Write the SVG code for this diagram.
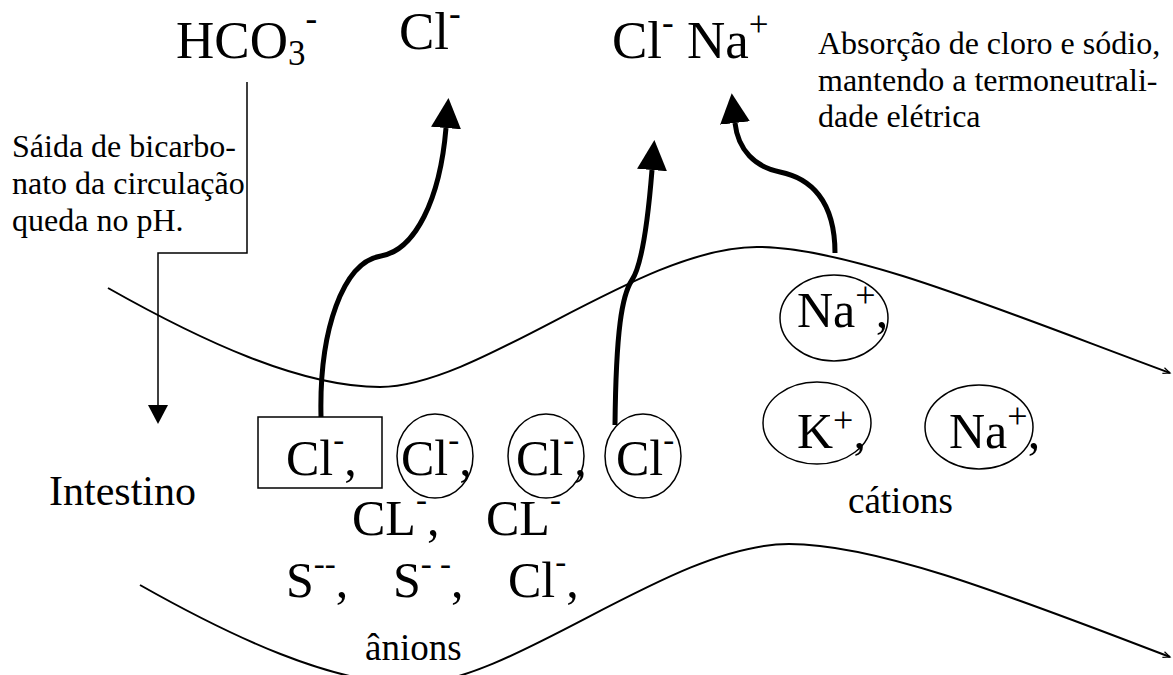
<svg xmlns="http://www.w3.org/2000/svg" width="1173" height="675" viewBox="0 0 1173 675">
<style>
text{font-family:"Liberation Serif","Times New Roman",serif;fill:#000}
.big{font-size:53px}
.ion{font-size:50px}
.sm{font-size:32px}
.lbl{font-size:37px}
.mem{fill:none;stroke:#000;stroke-width:2}
.thin{fill:none;stroke:#000;stroke-width:1.5}
.thick{fill:none;stroke:#000;stroke-width:5}
.shape{fill:none;stroke:#000;stroke-width:1.5}
</style>
<defs>
<marker id="bigArrow" markerUnits="userSpaceOnUse" viewBox="0 -15 30 30" refX="0" refY="0" markerWidth="30" markerHeight="30" orient="auto">
<path d="M0,-15 L30,0 L0,15 z" fill="#000"/>
</marker>
<marker id="thinArrow" markerUnits="userSpaceOnUse" viewBox="0 -10 20 20" refX="0" refY="0" markerWidth="20" markerHeight="20" orient="auto">
<path d="M0,-10 L19,0 L0,10 z" fill="#000"/>
</marker>
<marker id="tinyArrow" markerUnits="userSpaceOnUse" viewBox="-8 -4 10 8" refX="0" refY="0" markerWidth="10" markerHeight="8" orient="auto">
<path d="M-7,-3 L0,0 L-7,3" fill="none" stroke="#000" stroke-width="1.2"/>
</marker>
</defs>

<g id="membrane-top">
<path class="mem" marker-end="url(#tinyArrow)" d="M108,288 C200,340 300,387 380,387 C480,387 640,247 757,247 C850,247 1000,310 1170,373"/>
</g>
<g id="membrane-bottom">
<path class="mem" marker-end="url(#tinyArrow)" d="M140,585 C232,637 332,684 412,684 C512,684 672,544 789,544 C880,544 1020,600 1170,657"/>
</g>

<g id="connectors">
<path class="thin" marker-end="url(#thinArrow)" d="M247,82 L247,253 L158,253 L158,405"/>
<path class="thick" marker-end="url(#bigArrow)" d="M321,417 C319,330 343,262 381,256 C415,250 440,200 446,128"/>
<path class="thick" marker-end="url(#bigArrow)" d="M615,425 C616,330 622,295 632,280 C642,265 648,220 652,170"/>
<path class="thick" marker-end="url(#bigArrow)" d="M835,253 C835,200 810,178 780,172 C755,167 738,150 735,123"/>
</g>

<g id="label-hco3">
<text class="big" x="176" y="58">HCO<tspan font-size="35" dy="7">3</tspan><tspan font-size="35" dy="-35">-</tspan></text>
</g>
<g id="label-cl-top">
<text class="big" x="399" y="49">Cl<tspan font-size="35" dy="-24">-</tspan></text>
</g>
<g id="label-clna-top">
<text class="big" x="612" y="58">Cl<tspan font-size="35" dy="-24">-</tspan><tspan dy="24"> Na</tspan><tspan font-size="35" dy="-22">+</tspan></text>
</g>
<g id="label-absorcao">
<text class="sm" x="818" y="54">Absorção de cloro e sódio,</text>
<text class="sm" x="818" y="91">mantendo a termoneutrali-</text>
<text class="sm" x="818" y="127">dade elétrica</text>
</g>
<g id="label-saida">
<text class="sm" x="12" y="157">Sáida de bicarbo-</text>
<text class="sm" x="12" y="194">nato da circulação</text>
<text class="sm" x="12" y="231">queda no pH.</text>
</g>
<g id="label-intestino">
<text x="49" y="505" font-size="42">Intestino</text>
</g>

<g id="node-cl-box">
<rect class="shape" x="258" y="417" width="124" height="71"/>
<text class="ion" x="286" y="475">Cl<tspan font-size="33" dy="-24">-</tspan><tspan dy="24">,</tspan></text>
</g>
<g id="node-cl-circle-1">
<ellipse class="shape" cx="435" cy="456" rx="38" ry="42"/>
<text class="ion" x="401" y="475">Cl<tspan font-size="33" dy="-24">-</tspan><tspan dy="24">,</tspan></text>
</g>
<g id="node-cl-circle-2">
<ellipse class="shape" cx="546" cy="456" rx="38" ry="42"/>
<text class="ion" x="516" y="475">Cl<tspan font-size="33" dy="-24">-</tspan><tspan dy="24">,</tspan></text>
</g>
<g id="node-cl-circle-3">
<ellipse class="shape" cx="643" cy="456" rx="38" ry="42"/>
<text class="ion" x="616" y="475">Cl<tspan font-size="33" dy="-24">-</tspan></text>
</g>
<g id="anions-row-2">
<text class="ion" x="352" y="535">CL<tspan font-size="33" dy="-24">-</tspan><tspan dy="24">,</tspan><tspan x="486">CL</tspan><tspan font-size="33" dy="-24">-</tspan></text>
</g>
<g id="anions-row-3">
<text class="ion" x="286" y="597">S<tspan font-size="33" dy="-22">--</tspan><tspan dy="22">,</tspan><tspan x="393">S</tspan><tspan font-size="33" dy="-22">- -</tspan><tspan dy="22">,</tspan><tspan x="508">Cl</tspan><tspan font-size="33" dy="-24">-</tspan><tspan dy="24">,</tspan></text>
</g>
<g id="label-anions">
<text class="lbl" x="365" y="660">ânions</text>
</g>

<g id="node-na-1">
<ellipse class="shape" cx="834" cy="318" rx="54" ry="43"/>
<text class="ion" x="797" y="327">Na<tspan font-size="36" dy="-20">+</tspan><tspan dy="20">,</tspan></text>
</g>
<g id="node-k">
<ellipse class="shape" cx="817" cy="423" rx="54" ry="41"/>
<text class="ion" x="797" y="448">K<tspan font-size="36" dy="-16">+</tspan><tspan dy="16">,</tspan></text>
</g>
<g id="node-na-2">
<ellipse class="shape" cx="979" cy="427" rx="54" ry="42"/>
<text class="ion" x="949" y="448">Na<tspan font-size="36" dy="-20">+</tspan><tspan dy="20">,</tspan></text>
</g>
<g id="label-cations">
<text class="lbl" x="848" y="513">cátions</text>
</g>
</svg>
